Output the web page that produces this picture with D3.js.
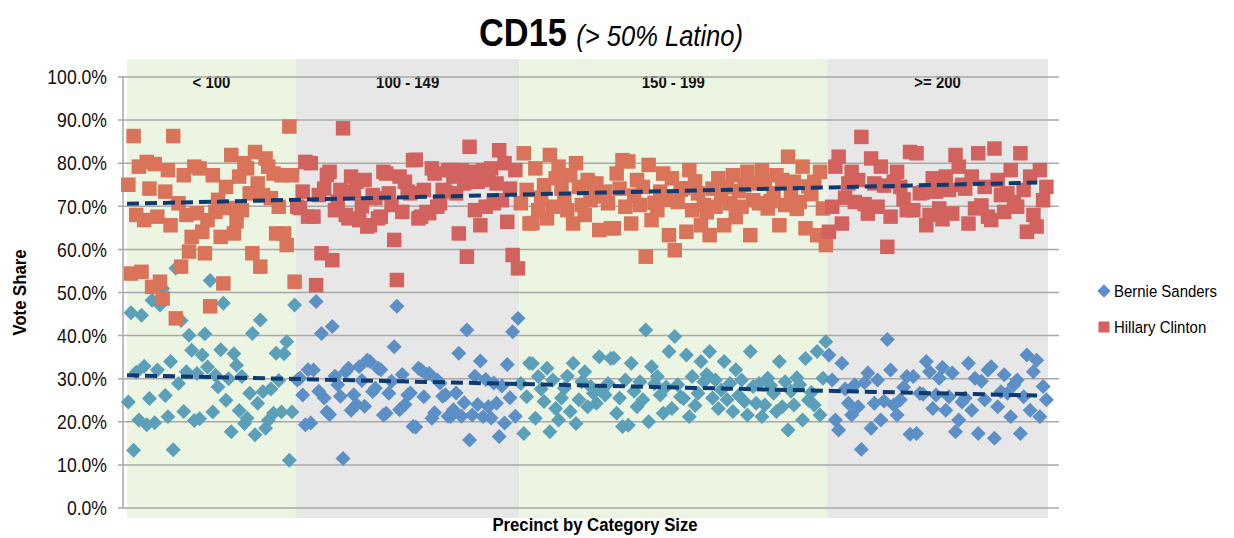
<!DOCTYPE html>
<html>
<head>
<meta charset="utf-8">
<script src="https://cdn.jsdelivr.net/npm/d3@7"></script>
<style>
  body { margin: 0; background: #fff; }
  text { font-family: "Liberation Sans", Arial, sans-serif; }
</style>
</head>
<body>
<div id="wrapper"></div>
<script>
// precinct categories (x bands) and how many precincts fall in each
const categories = ["< 100", "100 - 149", "150 - 199", ">= 200"]
const precinctCounts = [62, 82, 113, 81]

// vote share (%) per precinct, in x order, one list per category
const clintonShare = [
  [75.0, 54.4, 86.3, 68.0, 79.2, 54.8, 66.8, 80.3, 74.1, 51.3,
   79.8, 67.6, 52.5, 48.6, 73.4, 78.4, 65.6, 86.3, 44.0, 70.7,
   56.0, 77.2, 68.0, 59.5, 62.9, 79.2, 68.4, 78.8, 64.1, 59.1,
   66.8, 46.8, 77.2, 68.7, 71.5, 62.9, 52.1, 74.5, 69.6, 81.9,
   63.7, 66.5, 76.9, 69.1, 80.0, 78.8, 73.0, 59.1, 82.6, 75.3,
   56.0, 72.6, 81.1, 79.2, 71.9, 77.6, 63.7, 69.9, 77.2, 63.7,
   61.0, 88.5, 77.2, 52.5],
  [69.9, 69.6, 73.4, 80.3, 67.6, 80.0, 67.6, 51.7, 72.6, 59.1,
   74.1, 77.3, 78.0, 57.5, 69.1, 71.1, 73.8, 88.1, 68.0, 67.2,
   76.9, 73.4, 75.7, 66.8, 70.0, 76.1, 65.3, 65.6, 72.6, 71.9,
   67.2, 67.6, 78.0, 77.6, 73.0, 70.3, 62.2, 52.9, 76.9, 68.7,
   75.7, 73.4, 73.0, 80.7, 80.8, 67.2, 67.6, 73.8, 68.7, 68.4,
   78.8, 77.6, 69.9, 70.7, 73.8, 73.4, 78.4, 78.4, 76.9, 73.0,
   63.7, 78.4, 75.3, 58.3, 83.8, 78.0, 69.1, 75.7, 65.6, 78.4,
   69.9, 76.1, 78.8, 70.7, 75.3, 83.0, 71.4, 80.0, 66.4, 74.1,
   58.7, 78.4, 55.6],
  [70.7, 82.3, 73.8, 66.0, 66.1, 78.8, 69.1, 72.0, 74.9, 67.2,
   81.9, 69.9, 76.5, 79.2, 74.1, 71.8, 69.1, 77.2, 66.0, 80.0,
   74.5, 70.3, 68.0, 76.1, 71.4, 73.0, 75.3, 64.5, 72.3,
   73.4, 70.7, 64.9, 64.9, 77.6, 74.1, 80.7, 69.9, 80.4, 66.0,
   72.5, 76.1, 70.3, 74.5, 58.3, 79.6, 66.8, 70.8, 69.1, 73.4, 77.6,
   71.5, 63.3, 76.5, 59.8, 71.0, 73.8, 74.2, 64.1, 78.4, 69.1, 75.8,
   73.0, 65.6, 70.3, 68.6, 63.3, 74.1, 69.9, 76.5, 72.2, 65.6, 74.5,
   70.7, 77.2, 67.5, 73.5, 69.9, 74.9, 78.0, 63.3, 71.4, 75.3,
   70.7, 78.4, 75.7, 69.5, 71.2, 73.0, 77.2, 65.6, 76.1, 70.3, 81.5,
   72.5, 75.7, 69.4, 71.0, 79.2, 64.9, 74.6, 72.8, 75.7, 63.3, 78.0, 69.5, 61.0],
  [64.1, 69.9, 79.2, 81.5, 66.0, 72.0, 75.3, 78.0, 71.0, 76.1, 86.1, 70.5,
   68.3, 81.1, 75.3, 69.9, 79.2, 74.8, 60.6, 67.6, 75.7, 78.0, 74.5, 71.6,
   69.1, 82.6, 69.1, 82.3, 73.0, 73.2, 65.6, 68.0, 76.5, 73.4, 69.5, 67.0,
   76.9, 73.8, 68.3, 81.9, 79.2, 75.0, 74.1, 66.0, 76.9, 69.5, 82.3, 70.2,
   74.5, 67.6, 66.8, 83.4, 76.1, 72.6, 68.7, 73.0, 78.4, 71.0, 69.9, 82.3,
   73.8, 64.1, 76.9, 68.0, 65.3, 78.4, 71.4, 74.5]
]

const sandersShare = [
  [24.6, 45.3, 13.4, 31.5, 20.4, 44.7, 32.9, 19.3, 25.4, 48.2,
   19.8, 32.0, 47.1, 50.9, 26.1, 21.2, 34.0, 13.5, 55.6, 28.9,
   43.5, 22.4, 31.6, 40.1, 36.6, 20.3, 31.2, 20.7, 35.5, 40.4,
   32.7, 52.8, 22.3, 30.8, 28.1, 36.7, 47.5, 25.0, 30.0, 17.7,
   35.8, 33.1, 22.6, 30.5, 19.6, 20.8, 26.6, 40.5, 17.0, 24.3,
   43.6, 27.0, 18.5, 20.3, 27.6, 22.0, 35.9, 29.6, 22.3, 35.8,
   38.6, 11.1, 22.3, 47.1],
  [29.7, 30.1, 26.2, 19.3, 32.1, 19.7, 32.0, 47.9, 27.1, 40.5,
   25.5, 22.3, 21.7, 42.1, 30.6, 28.6, 25.9, 11.5, 31.6, 32.4,
   22.7, 26.3, 24.0, 32.8, 29.6, 23.6, 34.3, 34.0, 27.0, 27.8,
   32.4, 32.1, 21.6, 22.0, 26.6, 29.4, 37.4, 46.8, 22.8, 31.0,
   24.0, 26.2, 26.7, 18.9, 18.8, 32.4, 32.0, 25.8, 31.0, 31.2,
   20.8, 22.1, 29.7, 29.0, 25.9, 26.3, 21.3, 21.2, 22.8, 26.7,
   35.9, 21.3, 24.4, 41.3, 15.8, 21.6, 30.6, 24.0, 34.1, 21.2,
   29.8, 23.5, 20.9, 29.0, 24.3, 16.6, 28.3, 19.7, 33.3, 25.6,
   40.9, 21.3, 44.0],
  [28.9, 17.3, 25.8, 33.6, 33.5, 20.8, 30.5, 27.6, 24.7, 32.4,
   17.7, 29.7, 23.1, 20.4, 25.5, 27.8, 30.6, 22.4, 33.6, 19.6,
   25.1, 29.3, 31.6, 23.5, 28.2, 26.6, 24.3, 35.1, 27.3,
   26.2, 28.9, 34.7, 34.8, 22.0, 25.5, 18.9, 29.7, 19.2, 33.6,
   27.1, 23.5, 29.3, 25.1, 41.3, 20.0, 32.8, 28.8, 30.5, 26.2, 22.0,
   28.1, 36.3, 23.1, 39.8, 28.6, 25.8, 25.4, 35.5, 21.2, 30.5, 23.8,
   26.6, 34.0, 29.3, 31.0, 36.3, 25.5, 29.7, 23.1, 27.4, 34.0, 25.1,
   28.9, 22.4, 32.1, 26.1, 29.7, 24.7, 21.6, 36.3, 28.2, 24.3,
   28.9, 21.2, 23.9, 30.1, 28.4, 26.6, 22.4, 34.0, 23.5, 29.3, 18.1,
   27.1, 23.9, 30.2, 28.6, 20.4, 34.7, 25.0, 26.8, 23.9, 36.3, 21.6, 30.1, 38.6],
  [35.5, 29.7, 20.4, 18.1, 33.6, 27.6, 24.3, 21.6, 28.6, 23.5, 13.6, 29.1,
   31.3, 18.5, 24.3, 29.7, 20.4, 24.8, 39.1, 32.0, 23.9, 21.6, 25.1, 28.0,
   30.5, 17.1, 30.5, 17.3, 26.6, 26.4, 34.0, 31.6, 23.1, 26.2, 30.1, 32.6,
   22.7, 25.8, 31.3, 17.7, 20.4, 24.6, 25.5, 33.6, 22.7, 30.1, 17.3, 29.4,
   25.1, 32.0, 32.8, 16.2, 23.5, 27.0, 30.9, 26.6, 21.2, 28.6, 29.7, 17.3,
   25.8, 35.5, 22.7, 31.6, 34.3, 21.2, 28.2, 25.1]
]

// linear trend lines (start / end value, %) over precinct range
const trendPrecincts = [0, 334]
const clintonTrend = [70.6, 75.5]
const sandersTrend = [30.8, 26.1]

const yTicks = [0, 10, 20, 30, 40, 50, 60, 70, 80, 90, 100]
const seriesNames = ["Bernie Sanders", "Hillary Clinton"]

// narrow-looking text: squeeze horizontally around its anchor
const squeeze = 0.88
const placeText = (sel, x, y) => sel.attr("transform", `translate(${x},${y}) scale(${squeeze},1)`)

function drawChart() {

  // build dataset
  const starts = [0]
  precinctCounts.forEach(c => starts.push(starts[starts.length - 1] + c))
  const total = starts[starts.length - 1]

  let dataset = []
  categories.forEach((cat, k) => {
    const n = clintonShare[k].length
    clintonShare[k].forEach((c, i) => {
      dataset.push({
        precinct: starts[k] + (i + 0.5) * precinctCounts[k] / n,
        cat: k,
        clinton: c,
        sanders: sandersShare[k][i],
      })
    })
  })

  const xAccessor = d => d.precinct
  const clintonAccessor = d => d.clinton
  const sandersAccessor = d => d.sanders

  // dimensions
  let dimensions = {
    width: 1234,
    height: 538,
    plotLeft: 127,
    plotRight: 1048,
    axisX: 123,
    top: 77,
    bottom: 508,
  }

  const wrapper = d3.select("#wrapper")
    .append("svg")
    .attr("width", dimensions.width)
    .attr("height", dimensions.height)

  // scales
  const xScale = d3.scaleLinear()
    .domain([0, total])
    .range([dimensions.plotLeft, dimensions.plotRight])

  const yScale = d3.scaleLinear()
    .domain([0, 100])
    .range([dimensions.bottom, dimensions.top])

  const bandColor = k => k % 2 == 0 ? "#ebf5e2" : "#e7e7e7"
  const clintonColor = k => k % 2 == 0 ? "#d9735a" : "#d2625d"
  const sandersColor = k => k % 2 == 0 ? "#5c9fb8" : "#5b8fc6"

  // category bands
  const bands = wrapper.append("g")
  bands.selectAll("rect")
    .data(categories)
    .enter().append("rect")
    .attr("x", (d, k) => xScale(starts[k]))
    .attr("width", (d, k) => xScale(starts[k + 1]) - xScale(starts[k]))
    .attr("y", yScale(100) - 18)
    .attr("height", yScale(0) - yScale(100) + 28)
    .attr("fill", (d, k) => bandColor(k))

  // grid lines
  const grid = wrapper.append("g")
  grid.selectAll("line")
    .data(yTicks)
    .enter().append("line")
    .attr("x1", dimensions.axisX - 5)
    .attr("x2", 1059)
    .attr("y1", d => yScale(d))
    .attr("y2", d => yScale(d))
    .attr("stroke", "#a9a9a9")
    .attr("stroke-width", 1.5)

  wrapper.append("line")
    .attr("x1", dimensions.axisX)
    .attr("x2", dimensions.axisX)
    .attr("y1", yScale(100))
    .attr("y2", yScale(0))
    .attr("stroke", "#a9a9a9")
    .attr("stroke-width", 1.5)

  grid.selectAll("text")
    .data(yTicks)
    .enter().append("text")
    .call(sel => sel.each(function (d) { placeText(d3.select(this), 107, yScale(d)) }))
    .attr("dy", "0.36em")
    .attr("text-anchor", "end")
    .style("font-size", "20px")
    .attr("fill", "#111")
    .text(d => d3.format(".1f")(d) + "%")

  // band labels
  bands.selectAll("text")
    .data(categories)
    .enter().append("text")
    .call(sel => sel.each(function (d, k) {
      placeText(d3.select(this), xScale((starts[k] + starts[k + 1]) / 2), yScale(100) + 11)
    }))
    .attr("text-anchor", "middle")
    .style("font-size", "17px")
    .style("font-weight", "bold")
    .attr("fill", "#111")
    .text(d => d)

  // points
  const diamond = d3.symbol(d3.symbolSquare, 112)
  const square = d3.symbol(d3.symbolSquare, 210)

  wrapper.append("g").selectAll("path")
    .data(dataset)
    .enter().append("path")
    .attr("d", diamond)
    .attr("transform", d => `translate(${xScale(xAccessor(d))},${yScale(sandersAccessor(d))}) rotate(45)`)
    .attr("fill", d => sandersColor(d.cat))

  wrapper.append("g").selectAll("path")
    .data(dataset)
    .enter().append("path")
    .attr("d", square)
    .attr("transform", d => `translate(${xScale(xAccessor(d))},${yScale(clintonAccessor(d))})`)
    .attr("fill", d => clintonColor(d.cat))

  // trend lines
  const trends = [sandersTrend, clintonTrend]
  wrapper.append("g").selectAll("line")
    .data(trends)
    .enter().append("line")
    .attr("x1", xScale(trendPrecincts[0]))
    .attr("x2", xScale(trendPrecincts[1]))
    .attr("y1", d => yScale(d[0]))
    .attr("y2", d => yScale(d[1]))
    .attr("stroke", "#0f3a6f")
    .attr("stroke-width", 4)
    .attr("stroke-dasharray", "12 6")

  // title
  const title = wrapper.append("text")
    .call(placeText, 611, 46)
    .attr("text-anchor", "middle")
    .attr("fill", "#000")
  title.append("tspan")
    .style("font-size", "39px")
    .style("font-weight", "bold")
    .text("CD15 ")
  title.append("tspan")
    .style("font-size", "29px")
    .style("font-style", "italic")
    .text("(> 50% Latino)")

  // axis titles
  wrapper.append("text")
    .attr("transform", `translate(26, ${(yScale(0) + yScale(100)) / 2}) rotate(-90) scale(${squeeze},1)`)
    .attr("text-anchor", "middle")
    .style("font-size", "19px")
    .style("font-weight", "bold")
    .text("Vote Share")

  wrapper.append("text")
    .call(placeText, 595, 531)
    .attr("text-anchor", "middle")
    .style("font-size", "19px")
    .style("font-weight", "bold")
    .text("Precinct by Category Size")

  // legend
  const legend = wrapper.append("g")
    .attr("transform", "translate(1104, 291)")
  legend.append("path")
    .attr("d", d3.symbol(d3.symbolSquare, 90))
    .attr("transform", "rotate(45)")
    .attr("fill", "#5b90cf")
  legend.append("text")
    .call(placeText, 10, 0)
    .attr("dy", "0.36em")
    .style("font-size", "17px")
    .text(seriesNames[0])
  legend.append("path")
    .attr("d", d3.symbol(d3.symbolSquare, 120))
    .attr("transform", "translate(0, 36)")
    .attr("fill", "#d95f5f")
  legend.append("text")
    .call(placeText, 10, 36)
    .attr("dy", "0.36em")
    .style("font-size", "17px")
    .text(seriesNames[1])
}
drawChart()
</script>
</body>
</html>
